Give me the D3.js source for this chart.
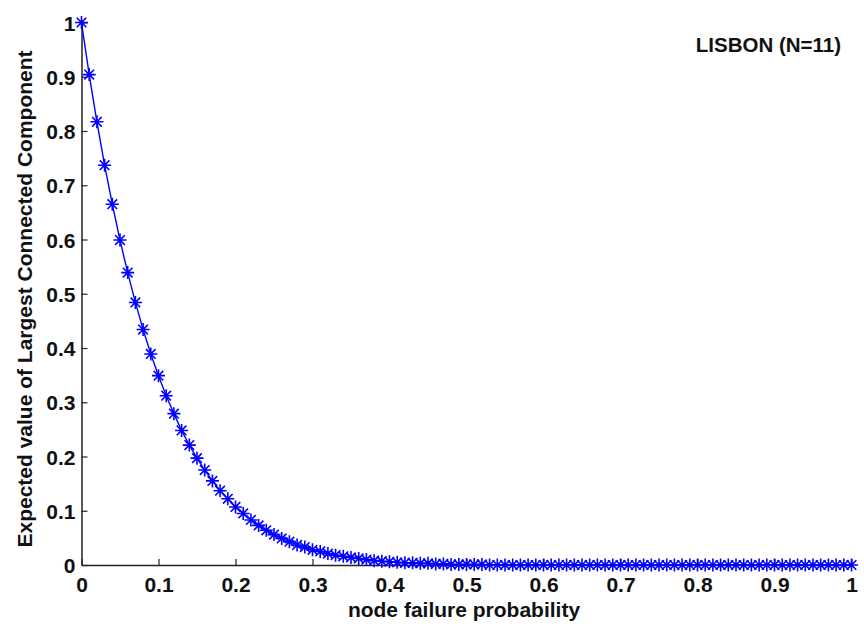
<!DOCTYPE html>
<html>
<head>
<meta charset="utf-8">
<script src="https://cdn.jsdelivr.net/npm/d3@7"></script>
<style>
  html, body { margin: 0; padding: 0; background: #fff; }
  svg { display: block; }
  .tick text { font-family: 'Liberation Sans', Arial, sans-serif; font-weight: bold; font-size: 21px; fill: #111; }
  .lbl { font-family: 'Liberation Sans', Arial, sans-serif; font-weight: bold; fill: #111; }
</style>
</head>
<body>
<div id="chart"></div>
<script>
// node failure probability (x)
const failureProb = [
  0.00, 0.01, 0.02, 0.03, 0.04, 0.05, 0.06, 0.07, 0.08, 0.09,
  0.10, 0.11, 0.12, 0.13, 0.14, 0.15, 0.16, 0.17, 0.18, 0.19,
  0.20, 0.21, 0.22, 0.23, 0.24, 0.25, 0.26, 0.27, 0.28, 0.29,
  0.30, 0.31, 0.32, 0.33, 0.34, 0.35, 0.36, 0.37, 0.38, 0.39,
  0.40, 0.41, 0.42, 0.43, 0.44, 0.45, 0.46, 0.47, 0.48, 0.49,
  0.50, 0.51, 0.52, 0.53, 0.54, 0.55, 0.56, 0.57, 0.58, 0.59,
  0.60, 0.61, 0.62, 0.63, 0.64, 0.65, 0.66, 0.67, 0.68, 0.69,
  0.70, 0.71, 0.72, 0.73, 0.74, 0.75, 0.76, 0.77, 0.78, 0.79,
  0.80, 0.81, 0.82, 0.83, 0.84, 0.85, 0.86, 0.87, 0.88, 0.89,
  0.90, 0.91, 0.92, 0.93, 0.94, 0.95, 0.96, 0.97, 0.98, 0.99,
  1.00
];

// expected value of largest connected component (y)
const expectedLCC = [
  1.000, 0.904, 0.817, 0.737, 0.665, 0.599, 0.539, 0.484, 0.434, 0.389,
  0.349, 0.312, 0.279, 0.248, 0.221, 0.197, 0.175, 0.155, 0.137, 0.122,
  0.107, 0.095, 0.083, 0.073, 0.064, 0.056, 0.049, 0.043, 0.037, 0.033,
  0.028, 0.025, 0.021, 0.018, 0.016, 0.014, 0.012, 0.010, 0.008, 0.007,
  0.006, 0.005, 0.004, 0.004, 0.003, 0.003, 0.002, 0.002, 0.001, 0.001,
  0.001, 0.001, 0.001, 0.000, 0.000, 0.000, 0.000, 0.000, 0.000, 0.000,
  0.000, 0.000, 0.000, 0.000, 0.000, 0.000, 0.000, 0.000, 0.000, 0.000,
  0.000, 0.000, 0.000, 0.000, 0.000, 0.000, 0.000, 0.000, 0.000, 0.000,
  0.000, 0.000, 0.000, 0.000, 0.000, 0.000, 0.000, 0.000, 0.000, 0.000,
  0.000, 0.000, 0.000, 0.000, 0.000, 0.000, 0.000, 0.000, 0.000, 0.000,
  0.000
];

const xTicks = [0, 0.1, 0.2, 0.3, 0.4, 0.5, 0.6, 0.7, 0.8, 0.9, 1];
const yTicks = [0, 0.1, 0.2, 0.3, 0.4, 0.5, 0.6, 0.7, 0.8, 0.9, 1];

const W = 864, H = 628;
const margin = { top: 22.5, right: 12.5, bottom: 63, left: 81.5 };
const width = W - margin.left - margin.right;
const height = H - margin.top - margin.bottom;

const svg = d3.select('#chart').append('svg')
  .attr('width', W)
  .attr('height', H);

const g = svg.append('g')
  .attr('transform', `translate(${margin.left},${margin.top})`);

const x = d3.scaleLinear().domain([0, 1]).range([0, width]);
const y = d3.scaleLinear().domain([0, 1]).range([height, 0]);

const fmt = d => d === 0 ? '0' : d === 1 ? '1' : d3.format('.1f')(d);

// X axis (ticks point inward)
const xAxis = g.append('g')
  .attr('transform', `translate(0,${height})`)
  .call(d3.axisBottom(x).tickValues(xTicks).tickFormat(fmt).tickSizeInner(-6).tickSizeOuter(0).tickPadding(8));

// Y axis
const yAxis = g.append('g')
  .call(d3.axisLeft(y).tickValues(yTicks).tickFormat(fmt).tickSizeInner(-6).tickSizeOuter(0).tickPadding(6));

[xAxis, yAxis].forEach(a => {
  a.select('.domain').attr('stroke', '#222').attr('stroke-width', 1.5);
  a.selectAll('.tick line').attr('stroke', '#222').attr('stroke-width', 1.2);
});
xAxis.selectAll('.tick text').attr('dy', '0.9em');
yAxis.selectAll('.tick text').attr('dy', '0.36em');

// Line
const pts = failureProb.map((p, i) => ({ p, v: expectedLCC[i] }));

g.append('path')
  .datum(pts)
  .attr('fill', 'none')
  .attr('stroke', '#0000ff')
  .attr('stroke-width', 1.4)
  .attr('d', d3.line().x(d => x(d.p)).y(d => y(d.v)));

// Asterisk markers
const r = 6.5, rd = 4.8;
const star = `M${-r},0L${r},0M0,${-r}L0,${r}M${-rd},${-rd}L${rd},${rd}M${-rd},${rd}L${rd},${-rd}`;

g.selectAll('.marker')
  .data(pts)
  .enter().append('path')
  .attr('class', 'marker')
  .attr('transform', d => `translate(${x(d.p)},${y(d.v)})`)
  .attr('d', star)
  .attr('fill', 'none')
  .attr('stroke', '#0000ff')
  .attr('stroke-width', 1.6);

// Labels
svg.append('text')
  .attr('class', 'lbl')
  .attr('x', 464)
  .attr('y', 617)
  .attr('text-anchor', 'middle')
  .style('font-size', '21px')
  .text('node failure probability');

svg.append('text')
  .attr('class', 'lbl')
  .attr('transform', 'translate(32,299) rotate(-90)')
  .attr('text-anchor', 'middle')
  .style('font-size', '21px')
  .text('Expected value of Largest Connected Component');

svg.append('text')
  .attr('class', 'lbl')
  .attr('x', 841)
  .attr('y', 52)
  .attr('text-anchor', 'end')
  .style('font-size', '20.5px')
  .text('LISBON (N=11)');
</script>
</body>
</html>
